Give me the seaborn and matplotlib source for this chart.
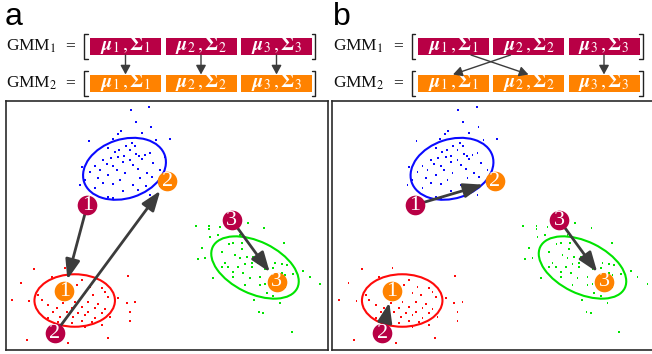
import numpy as np
import pandas as pd
import seaborn as sns
import matplotlib.pyplot as plt
from matplotlib.patches import Ellipse, Rectangle

sns.set_theme(style='white')
plt.rcParams['font.family'] = ['Liberation Serif', 'DejaVu Serif']
plt.rcParams['mathtext.fontset'] = 'stix'

# sample points (pixel-like units, y grows downward)
blue_x = [130.7, 149.3, 135.7, 151.0, 120.7, 117.7, 141.7, 89.0, 112.7, 156.0, 169.7, 132.3, 125.7,
          135.3, 108.3, 119.3, 130.0, 114.7, 136.3, 123.7, 139.3, 145.0, 150.0, 110.7, 118.3, 103.3,
          130.0, 106.7, 123.3, 141.7, 165.0, 95.0, 113.3, 133.3, 153.3, 81.7, 100.0, 116.7, 138.3,
          146.7, 90.0, 108.3, 125.0, 160.0, 98.3, 120.0, 140.0, 151.7, 85.0, 80.0, 103.3, 113.3,
          133.3, 146.0, 95.0, 123.3, 138.3, 108.3, 113.3, 150.0, 160.0]
blue_y = [110.3, 107.0, 122.3, 127.0, 131.3, 134.0, 133.0, 141.0, 139.0, 140.3, 139.0, 143.0, 145.7,
          145.7, 148.0, 149.7, 149.7, 152.3, 153.7, 156.3, 155.7, 155.0, 153.0, 158.0, 157.0, 160.3,
          160.3, 163.7, 162.3, 159.0, 157.0, 166.3, 166.3, 164.7, 163.0, 167.0, 169.7, 169.7, 169.0,
          173.0, 172.3, 174.7, 173.0, 169.7, 178.0, 180.3, 178.0, 177.0, 179.7, 184.7, 183.0, 183.7,
          184.7, 186.3, 188.0, 191.3, 190.3, 197.0, 198.0, 194.7, 186.3]
red_x = [34.3, 65.0, 51.7, 21.0, 81.7, 127.7, 76.7, 90.0, 101.7, 105.0, 11.7, 29.0, 41.7, 70.0,
         85.0, 93.3, 108.3, 118.3, 135.0, 48.3, 63.3, 75.0, 88.3, 98.3, 56.7, 71.7, 81.7, 95.0,
         105.0, 126.7, 53.3, 66.7, 78.3, 88.3, 101.7, 130.0, 60.0, 73.3, 85.0, 95.0, 110.0, 48.3,
         81.7, 91.7, 130.0, 71.7, 101.7, 58.3, 26.7, 107.7, 85.0, 38.3, 68.3]
red_y = [269.0, 267.7, 276.7, 283.3, 280.0, 275.7, 285.0, 286.7, 288.3, 291.7, 300.0, 301.0, 300.0,
         296.7, 293.3, 295.0, 296.7, 298.3, 301.7, 305.0, 303.3, 301.7, 302.3, 304.3, 308.3, 308.3,
         306.7, 307.7, 309.0, 303.3, 311.7, 311.7, 313.3, 311.7, 313.3, 311.7, 316.7, 316.7, 315.0,
         318.3, 316.7, 318.3, 321.0, 321.7, 321.0, 323.3, 325.0, 321.7, 340.0, 338.3, 326.7, 295.0,
         343.3]
green_x = [195.7, 209.0, 209.0, 220.0, 247.7, 264.0, 217.7, 210.0, 240.0, 284.3, 229.0, 233.3, 242.3,
           201.7, 221.7, 241.7, 235.0, 246.7, 253.3, 262.3, 197.7, 205.0, 240.0, 225.0, 245.0, 251.7,
           258.3, 228.3, 238.3, 251.7, 275.0, 281.7, 286.7, 233.3, 243.3, 265.0, 273.3, 281.7, 303.3,
           213.3, 250.0, 260.0, 285.0, 293.3, 310.0, 245.0, 260.0, 265.0, 285.0, 266.7, 273.3, 254.3,
           280.0, 259.0, 263.3, 320.0, 291.7, 233.3, 221.7]
green_y = [226.0, 226.0, 229.3, 226.7, 222.7, 228.3, 235.0, 237.3, 235.0, 242.7, 244.0, 243.3, 243.3,
           248.3, 251.7, 249.3, 255.0, 256.7, 257.3, 255.0, 259.3, 258.3, 258.3, 262.7, 264.0, 263.3,
           262.7, 266.7, 267.3, 266.7, 263.3, 264.0, 265.0, 271.7, 273.3, 269.3, 268.3, 273.3, 270.7,
           278.3, 278.3, 277.3, 275.0, 274.0, 277.3, 285.0, 285.0, 284.0, 286.7, 292.7, 296.0, 300.0,
           302.7, 311.7, 312.7, 284.0, 331.7, 276.7, 266.7]

# fitted ellipses (center, full width, full height, tilt in degrees)
ell_colors = ['#0a0aff', '#ff0a0a', '#00e400']
ell_cx = [124.5, 74.7, 255.0]
ell_cy = [168.8, 300.5, 267.5]
ell_w = [85.0, 80.5, 94.0]
ell_h = [59.0, 52.5, 52.0]
ell_angle = [-18, 0, 26]

# component means of the two models
gmm1_x = [87.3, 55.0, 231.7]
gmm1_y = [205.0, 333.3, 220.0]
gmm2_x = [64.3, 167.3, 276.7]
gmm2_y = [291.0, 181.3, 281.7]

# which GMM2 component each GMM1 component is matched to
match_a = [0, 1, 2]
match_b = [1, 0, 2]

comp_labels = [r'$\mathbfit{\mu}_%d\,, \mathbf{\Sigma}_%d$' % (k, k) for k in (1, 2, 3)]

crimson = '#b80045'
orange = '#ff8200'
dark = '#3c3c3c'

pts = pd.DataFrame({
    'x': blue_x + red_x + green_x,
    'y': blue_y + red_y + green_y,
    'cluster': ['blue'] * len(blue_x) + ['red'] * len(red_x) + ['green'] * len(green_x),
})
pal = {'blue': ell_colors[0], 'red': ell_colors[1], 'green': ell_colors[2]}

fig = plt.figure(figsize=(6.52, 3.54), dpi=100)

# top overlay in pixel coordinates for the GMM rows
top = fig.add_axes([0, 0, 1, 1])
top.set_xlim(0, 652)
top.set_ylim(354, 0)
top.axis('off')

shift = 327.5
box_left, box_w, box_gap = 90, 71, 4.5
row_top = [38, 75]
row_h = 16.5
row_fill = [crimson, orange]

for p, (letter, match) in enumerate([('a', match_a), ('b', match_b)]):
    dx = p * shift
    top.text(5 + dx, 25, letter, family='Liberation Sans', fontsize=23, color='black',
             ha='left', va='baseline')
    centers = []
    for r in range(2):
        yc = row_top[r] + row_h / 2
        top.text(5.5 + dx, yc, 'GMM$_%d$' % (r + 1), fontsize=12.5, ha='left', va='center',
                 color='#111111')
        top.text(70.5 + dx, yc - 0.5, '=', fontsize=12.5, ha='center', va='center', color='#111111')
        # brackets
        b0, b1 = yc - 12.5, yc + 12.5
        top.plot([87.5 + dx, 84 + dx, 84 + dx, 87.5 + dx], [b0, b0, b1, b1], color='#222222', lw=1)
        top.plot([311.5 + dx, 315 + dx, 315 + dx, 311.5 + dx], [b0, b0, b1, b1], color='#222222', lw=1)
        for k in range(3):
            x0 = box_left + dx + k * (box_w + box_gap)
            top.add_patch(Rectangle((x0, row_top[r]), box_w, row_h, facecolor=row_fill[r],
                                    edgecolor='none'))
            top.text(x0 + box_w / 2, yc - 1.0, comp_labels[k], color='white', fontsize=14,
                     ha='center', va='center')
            if r == 0:
                centers.append(x0 + box_w / 2)
    y_from = row_top[0] + row_h + 0.5
    y_to = row_top[1] - 0.5
    for i in range(3):
        j = match[i]
        xs = centers[i] + (0 if i == j else 18 * np.sign(j - i))
        top.annotate('', xy=(centers[j], y_to), xytext=(xs, y_from),
                     arrowprops=dict(arrowstyle='-|>,head_length=0.55,head_width=0.3',
                                     color=dark, lw=1, mutation_scale=10,
                                     shrinkA=0, shrinkB=0))

# scatter panels
ax_a = fig.add_axes([6 / 652, 4 / 354, 322 / 652, 249 / 354])
ax_b = fig.add_axes([332 / 652, 4 / 354, 323 / 652, 249 / 354])

for ax, match, x0, x1 in [(ax_a, match_a, 6, 328), (ax_b, match_b, 332 - shift, 655 - shift)]:
    sns.scatterplot(data=pts, x='x', y='y', hue='cluster', palette=pal, marker='s', s=2,
                    linewidth=0, legend=False, ax=ax)
    for k in range(3):
        ax.add_patch(Ellipse((ell_cx[k], ell_cy[k]), ell_w[k], ell_h[k], angle=ell_angle[k],
                             fill=False, edgecolor=ell_colors[k], lw=1.5, zorder=2))
    for i in range(3):
        j = match[i]
        ax.annotate('', xy=(gmm2_x[j], gmm2_y[j]), xytext=(gmm1_x[i], gmm1_y[i]),
                    arrowprops=dict(arrowstyle='-|>,head_length=0.6,head_width=0.22',
                                    color=dark, lw=2, mutation_scale=20,
                                    shrinkA=0, shrinkB=8.5), zorder=3)
    sns.scatterplot(x=gmm1_x, y=gmm1_y, color=crimson, s=200, linewidth=0, ax=ax, zorder=4)
    sns.scatterplot(x=gmm2_x, y=gmm2_y, color=orange, s=200, linewidth=0, ax=ax, zorder=4)
    for k in range(3):
        ax.text(gmm1_x[k], gmm1_y[k] + 0.3, str(k + 1), color='white', fontsize=16,
                ha='center', va='center', zorder=5)
        ax.text(gmm2_x[k], gmm2_y[k] + 0.3, str(k + 1), color='white', fontsize=16,
                ha='center', va='center', zorder=5)
    ax.set_xlim(x0, x1)
    ax.set_ylim(350, 101)
    ax.set(xticks=[], yticks=[], xlabel='', ylabel='')
    for sp in ax.spines.values():
        sp.set_color('#2a2a2a')
        sp.set_linewidth(1.2)

fig.savefig('out.png', dpi=100)
